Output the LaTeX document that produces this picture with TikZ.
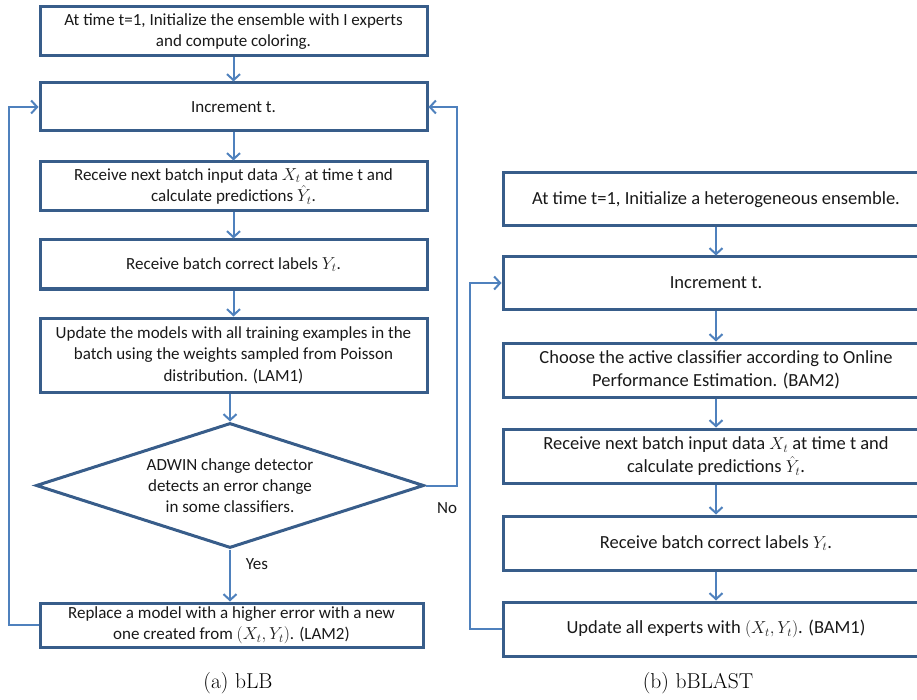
\documentclass[tikz,border=0pt]{standalone}
\usepackage{fontspec}
\newfontfamily\calfont{Carlito}
\usetikzlibrary{arrows.meta,shapes.geometric}
\definecolor{boxblue}{HTML}{385D8A}
\definecolor{arrblue}{HTML}{4F81BD}
\tikzset{
  x=1pt, y=-1pt,
  lbox/.style={draw=boxblue, line width=3pt, rectangle, align=center, inner sep=2pt,
    font=\calfont\fontsize{17}{21.5}\selectfont, text=black!90},
  rbox/.style={lbox, font=\calfont\fontsize{18.5}{23}\selectfont},
  dec/.style={draw=boxblue, line width=3pt, diamond, align=center, inner sep=0pt,
    font=\calfont\fontsize{17}{21}\selectfont, text=black!90},
  arr/.style={draw=arrblue, line width=2pt, -{Straight Barb[length=6pt,width=13pt]}},
  lbl/.style={font=\calfont\fontsize{17}{21}\selectfont, text=black!90},
  captxt/.style={font=\fontsize{21.5}{25}\selectfont}
}
\begin{document}
\begin{tikzpicture}
\useasboundingbox (0,0) rectangle (917,700);
\clip (0,0) rectangle (917,700);
% left column
\node[lbox, minimum width=387pt, minimum height=49pt] (a1) at (233.5,31.5)
  {At time t=1, Initialize the ensemble with I experts\\and compute coloring.};
\node[lbox, minimum width=387pt, minimum height=48pt] (a2) at (233.5,107) {Increment t.};
\node[lbox, minimum width=387pt, minimum height=49pt] (a3) at (233.5,186.5)
  {Receive next batch input data $X_t$ at time t and\\calculate predictions $\hat{Y}_t$.};
\node[lbox, minimum width=387pt, minimum height=49pt] (a4) at (233.5,264.5)
  {Receive batch correct labels $Y_t$.};
\node[lbox, minimum width=387pt, minimum height=74pt] (a5) at (233.5,355)
  {Update the models with all training examples in the\\batch using the weights sampled from Poisson\\distribution. (LAM1)};
\node[dec, minimum width=388pt, minimum height=125pt, aspect=3.1] (d) at (230,485.5)
  {ADWIN change detector\\detects an error change\\in some classifiers.};
\node[lbox, minimum width=383pt, minimum height=44pt] (a6) at (231.5,625)
  {Replace a model with a higher error with a new\\one created from $(X_t,Y_t)$. (LAM2)};
\coordinate (lx) at (9,0);
\coordinate (rx) at (457,0);
\draw[arr] (a1) -- (a2);
\draw[arr] (a2) -- (a3);
\draw[arr] (a3) -- (a4);
\draw[arr] (a4) -- (a5);
\draw[arr] (a5.south -| d.north) -- (d.north);
\draw[arr] (d.south) -- (d.south |- a6.north);
\draw[arr] (a6.west) -- (a6.west -| lx) -- (lx |- a2.west) -- (a2.west);
\draw[arr] (d.east) -- (d.east -| rx) -- (rx |- a2.east) -- (a2.east);
\node[lbl] (yes) at (257,564) {Yes};
\node[lbl] (no) at (447,508) {No};
\node[captxt] (capa) at (238,683) {(a) bLB};
% right column
\node[rbox, minimum width=426pt, minimum height=53pt] (b1) at (716,199.5)
  {At time t=1, Initialize a heterogeneous ensemble.};
\node[rbox, minimum width=426pt, minimum height=52pt] (b2) at (716,283) {Increment t.};
\node[rbox, minimum width=426pt, minimum height=54pt] (b3) at (716,370)
  {Choose the active classifier according to Online\\Performance Estimation. (BAM2)};
\node[rbox, minimum width=426pt, minimum height=54pt] (b4) at (716,456)
  {Receive next batch input data $X_t$ at time t and\\calculate predictions $\hat{Y}_t$.};
\node[rbox, minimum width=426pt, minimum height=54pt] (b5) at (716,543)
  {Receive batch correct labels $Y_t$.};
\node[rbox, minimum width=426pt, minimum height=54pt] (b6) at (716,629)
  {Update all experts with $(X_t,Y_t)$. (BAM1)};
\coordinate (bx) at (470,0);
\draw[arr] (b1) -- (b2);
\draw[arr] (b2) -- (b3);
\draw[arr] (b3) -- (b4);
\draw[arr] (b4) -- (b5);
\draw[arr] (b5) -- (b6);
\draw[arr] (b6.west) -- (b6.west -| bx) -- (bx |- b2.west) -- (b2.west);
\node[captxt] (capb) at (698,683) {(b) bBLAST};
\end{tikzpicture}
\end{document}
